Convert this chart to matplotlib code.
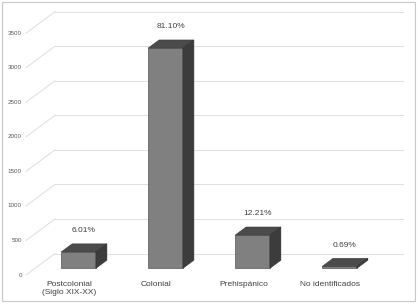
import numpy as np
import matplotlib
matplotlib.use('Agg')
from matplotlib import pyplot as plt
from matplotlib.patches import Polygon, Rectangle

categories = ['Postcolonial\n(Siglo XIX-XX)', 'Colonial', 'Prehispánico', 'No identificados']
counts = [236, 3187, 480, 27]
pct_labels = ['6.01%', '81.10%', '12.21%', '0.69%']
yticks = [0, 500, 1000, 1500, 2000, 2500, 3000, 3500]

plt.rcParams['font.family'] = ['Liberation Sans', 'DejaVu Sans']

# oblique depth of the floor (category units, value units)
DX, DY = 0.333, 311
d0, d1 = 0.31, 0.69
bw = 0.40

fig = plt.figure(figsize=(4.18, 3.05), dpi=100)
ax = fig.add_axes([0, 0, 1, 1])
ax.set_xlim(-0.799, 4.006)
ax.set_ylim(-434, 3980)
ax.axis('off')

grid_c = '#dedede'
x0, x1 = -0.5, 3.5
for t in yticks:
    ax.plot([x0, x0 + DX], [t, t + DY], color=grid_c, lw=0.7, zorder=1)
    ax.plot([x0 + DX, x1 + DX], [t + DY, t + DY], color=grid_c, lw=0.7, zorder=1)
    ax.annotate(str(t), (x0, t), xytext=(-3, 0), textcoords='offset points',
                ha='right', va='center', fontsize=4.5, color='#595959')

x = np.arange(len(categories))
xf = x + d0 * DX
ax.bar(xf, counts, bottom=d0 * DY, width=bw, color='#808080',
       edgecolor='#3a3a3a', linewidth=0.4, zorder=3)

for xi, v in zip(xf, counts):
    xl, xr = xi - bw / 2, xi + bw / 2
    b = d0 * DY
    dd = d1 - d0
    top = [(xl, v + b), (xr, v + b), (xr + dd * DX, v + b + dd * DY), (xl + dd * DX, v + b + dd * DY)]
    side = [(xr, b), (xr, v + b), (xr + dd * DX, v + b + dd * DY), (xr + dd * DX, b + dd * DY)]
    ax.add_patch(Polygon(top, closed=True, facecolor='#4b4b4b', edgecolor='#3a3a3a', lw=0.4, zorder=4))
    ax.add_patch(Polygon(side, closed=True, facecolor='#3c3c3c', edgecolor='#2e2e2e', lw=0.4, zorder=4))

for xi, v, lab in zip(x, counts, pct_labels):
    ax.annotate(lab, (xi + 0.5 * (d0 + d1) * DX, v + d1 * DY), xytext=(0, 7),
                textcoords='offset points', ha='center', va='bottom',
                fontsize=6, color='#404040')

for xi, lab in zip(x, categories):
    ax.annotate(lab, (xi, 0), xytext=(0, -4.5), textcoords='offset points',
                ha='center', va='top', fontsize=6, color='#404040', linespacing=1.2)

fig.patches.append(Rectangle((2 / 418, 4 / 305), 413 / 418, 299 / 305, transform=fig.transFigure,
                             fill=False, edgecolor='#c8c8c8', lw=0.8))

fig.savefig('out.png', dpi=100)
